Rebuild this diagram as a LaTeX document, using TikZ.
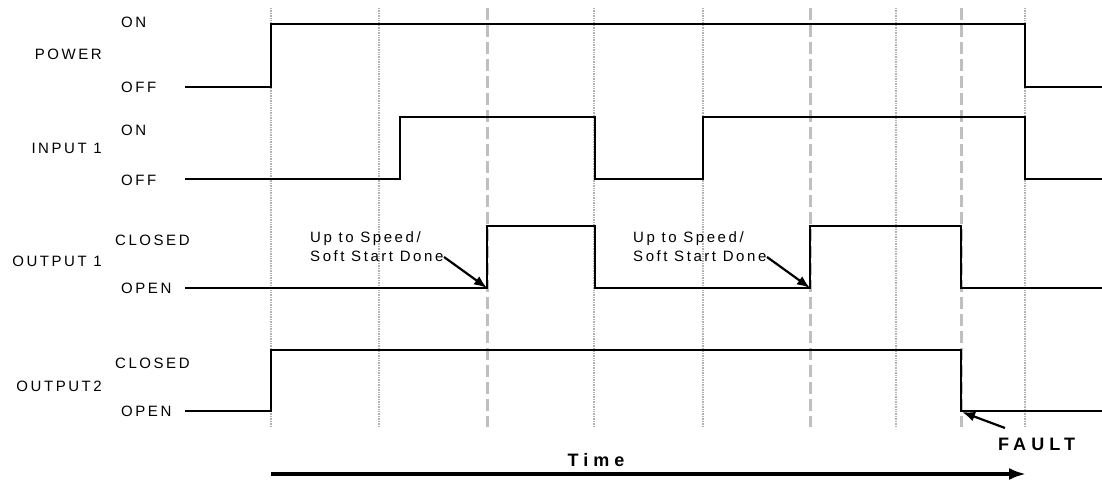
\documentclass[tikz,border=0pt]{standalone}
\usepackage{fontspec}
\setmainfont{Liberation Sans}
\newfontfamily\lab[LetterSpace=17]{Liberation Sans}
\newfontfamily\labb[LetterSpace=28]{Liberation Sans}
\usetikzlibrary{arrows.meta}
\begin{document}
\begin{tikzpicture}[x=1bp,y=-1bp,
  lbl/.style={inner sep=0pt, font=\lab\fontsize{15bp}{17bp}\selectfont},
  big/.style={inner sep=0pt, font=\labb\bfseries\fontsize{18bp}{20bp}\selectfont},
  gdot/.style={draw=black!30, line width=2.5bp, dash pattern=on 1bp off 0.7bp},
  gdash/.style={draw=black!25, line width=3bp, dash pattern=on 12bp off 5bp},
  sig/.style={draw=black, line width=1.3bp},
  annarrow/.style={draw=black, line width=2.2bp, -{Latex[length=13bp,width=10bp]}},
  timearrow/.style={draw=black, line width=3.2bp, -{Latex[length=17bp,width=12bp]}}]
\useasboundingbox (0,0) rectangle (1102,481);
% grid lines
\foreach \x in {271,379,594,703,896,1025} \draw[gdot] (\x,8) -- (\x,427);
\foreach \x in {487,810,961} \draw[gdash] (\x,8) -- (\x,427);
% signal names
\node[lbl, anchor=east] (power) at (102,54) {POWER};
\node[lbl, anchor=east] (input) at (102,148) {INPUT 1};
\node[lbl, anchor=east] (out1) at (102,261) {OUTPUT 1};
\node[lbl, anchor=east] (out2) at (102,386) {OUTPUT2};
% state labels
\node[lbl, anchor=west] (pon) at (121,22) {ON};
\node[lbl, anchor=west] (poff) at (121,87) {OFF};
\node[lbl, anchor=west] (ion) at (121,130) {ON};
\node[lbl, anchor=west] (ioff) at (121,180) {OFF};
\node[lbl, anchor=west] (o1c) at (115,240) {CLOSED};
\node[lbl, anchor=west] (o1o) at (121,288) {OPEN};
\node[lbl, anchor=west] (o2c) at (115,363) {CLOSED};
\node[lbl, anchor=west] (o2o) at (121,411) {OPEN};
% waveforms
\draw[sig] (185,87) -- (271,87) -- (271,24) -- (1025,24) -- (1025,87) -- (1102,87);
\draw[sig] (185,179) -- (400,179) -- (400,117) -- (595,117) -- (595,179) -- (703,179) -- (703,117) -- (1025,117) -- (1025,179) -- (1102,179);
\draw[sig] (185,288) -- (487,288) -- (487,226) -- (595,226) -- (595,288) -- (810,288) -- (810,226) -- (961,226) -- (961,288) -- (1102,288);
\draw[sig] (185,411) -- (271,411) -- (271,350) -- (961,350) -- (961,411) -- (1102,411);
% annotations
\node[lbl, anchor=west] (us1a) at (310,239) {Up to Speed/};
\node[lbl, anchor=west] (us1b) at (310,256) {Soft Start Done};
\node[lbl, anchor=west] (us2a) at (633,239) {Up to Speed/};
\node[lbl, anchor=west] (us2b) at (633,256) {Soft Start Done};
\coordinate (e1) at (487,288);
\coordinate (e2) at (810,288);
\coordinate (s1) at (444,257);
\coordinate (s2) at (767,257);
\draw[annarrow] (s1) -- (e1);
\draw[annarrow] (s2) -- (e2);
\node[big, anchor=west] (fault) at (998,444) {FAULT};
\coordinate (fs) at (1005,428);
\coordinate (fe) at (962,412);
\draw[annarrow] (fs) -- (fe);
% time axis
\node[big] (time) at (596,460) {Time};
\coordinate (t0) at (271,474);
\coordinate (t1) at (1026,474);
\draw[timearrow] (t0) -- (t1);
\end{tikzpicture}
\end{document}
